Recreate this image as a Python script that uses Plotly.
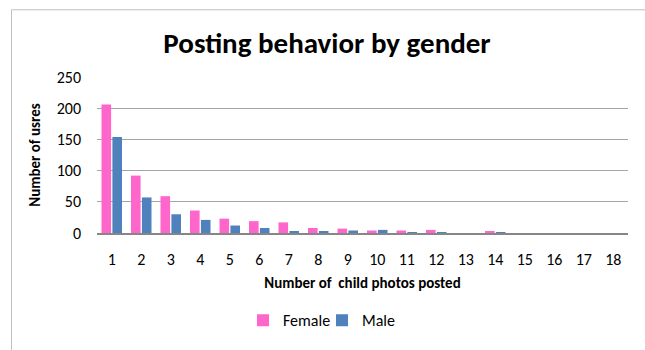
import plotly.graph_objects as go

# Number of child photos posted (x categories)
photos_posted = [str(i) for i in range(1, 19)]

# Number of users per gender
female_users = [206, 92, 59, 36, 23, 19, 17, 8, 7, 4, 4, 5, 0, 3, 0, 0, 0, 0]
male_users = [154, 57, 30, 21, 12, 8, 3, 3, 4, 5, 1, 1, 0, 1, 0, 0, 0, 0]

y_ticks = [0, 50, 100, 150, 200, 250]

FONT = "Carlito, Calibri, Lato, sans-serif"
W, H = 645, 350
L, R, T, B = 97, 17, 77, 114  # plot-area margins in pixels
PW, PH = W - L - R, H - T - B


def px_x(x):
    return (x - L) / PW


def px_y(y):
    return (H - B - y) / PH


fig = go.Figure()
fig.add_trace(go.Bar(name="Female", x=photos_posted, y=female_users,
                     marker=dict(color="#FF66CC", line=dict(width=0))))
fig.add_trace(go.Bar(name="Male", x=photos_posted, y=male_users,
                     marker=dict(color="#4F81BD", line=dict(width=0))))

fig.update_layout(
    width=W, height=H,
    margin=dict(l=L, r=R, t=T, b=B),
    paper_bgcolor="white", plot_bgcolor="white",
    barmode="group", bargap=0.26, bargroupgap=0.12,
    font=dict(family=FONT, size=16, color="#000000"),
    title=dict(text="<b>Posting behavior by gender</b>",
               font=dict(family=FONT, size=29, color="#000000"),
               x=327 / W, xanchor="center", xref="container",
               y=1 - 43 / H, yanchor="middle", yref="container"),
    xaxis=dict(
        type="category", showgrid=False, ticks="", ticklabelstandoff=11,
        showline=True, linecolor="#868686", linewidth=2,
        tickfont=dict(size=16),
        title=dict(text="<b>Number of  child photos posted</b>",
                   font=dict(size=15), standoff=9),
    ),
    yaxis=dict(
        range=[0, 250], tickvals=y_ticks, showgrid=True,
        gridcolor="#A6A6A6", gridwidth=1, zeroline=False,
        showline=False, ticks="", ticklabelstandoff=15,
        tickfont=dict(size=16),
        title=dict(text="<b>Number of usres</b>",
                   font=dict(size=15), standoff=12),
    ),
    legend=dict(orientation="h", x=px_x(322), xanchor="center",
                y=px_y(325), yanchor="middle",
                font=dict(size=16), itemwidth=30, entrywidth=34,
                traceorder="normal", bgcolor="rgba(0,0,0,0)"),
    showlegend=True,
)

# Outer chart frame: left and top edges
frame = dict(color="#BFBFBF", width=1)
fig.add_shape(type="line", xref="paper", yref="paper",
              x0=px_x(11.5), x1=px_x(11.5), y0=px_y(H + 5), y1=px_y(8.5),
              line=frame, layer="below")
fig.add_shape(type="line", xref="paper", yref="paper",
              x0=px_x(11.5), x1=px_x(W + 5), y0=px_y(8.5), y1=px_y(8.5),
              line=frame, layer="below")

fig.write_html("out.html")
